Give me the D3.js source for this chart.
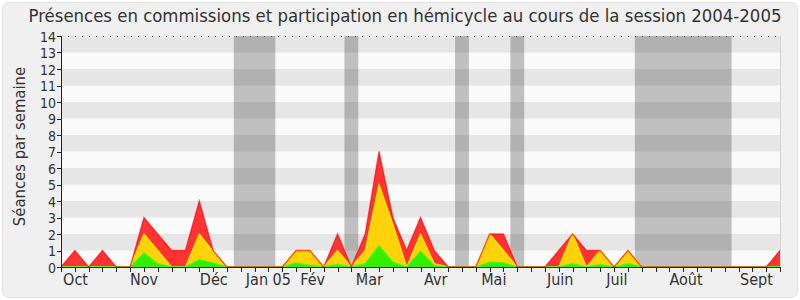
<!DOCTYPE html>
<html>
<head>
<meta charset="utf-8">
<script src="https://cdn.jsdelivr.net/npm/d3@7"></script>
<style>
    body { margin: 0; background: #fff; }
    text { font-family: "DejaVu Sans Condensed", "DejaVu Sans", sans-serif; font-stretch: condensed; fill: #333; }
</style>
</head>
<body>
<div id="chart"></div>
<script>
const ctx = {
    W: 800,
    H: 300,
    left: 61,
    right: 780,
    top: 36,
    bottom: 267,
};

// weekly values, week 0 .. 52 (session oct 2004 -> sept 2005)
const redValues = [0, 1, 0, 1, 0, 0, 3, 2, 1, 1, 4, 1, 0, 0, 0, 0, 0, 1, 1, 0, 2, 0, 2, 7, 3, 1,
                   3, 1, 0, 0, 0, 2, 2, 0, 0, 0, 1, 2, 1, 1, 0, 1, 0, 0, 0, 0, 0, 0, 0, 0, 0, 0, 1];
const yellowValues = [0, 0, 0, 0, 0, 0, 2, 1, 0, 0, 2, 0.95, 0, 0, 0, 0, 0, 1, 1, 0, 1, 0, 1, 5, 2.6, 0,
                      2, 0.2, 0, 0, 0, 2, 1, 0, 0, 0, 0, 2, 0, 1, 0, 1, 0, 0, 0, 0, 0, 0, 0, 0, 0, 0, 0];
const greenValues = [0, 0, 0, 0, 0, 0, 0.85, 0.2, 0, 0, 0.45, 0.25, 0, 0, 0, 0, 0, 0.25, 0.1, 0, 0.15, 0, 0.2, 1.3, 0.3, 0,
                     0.95, 0.1, 0, 0, 0, 0.3, 0.25, 0, 0, 0, 0, 0.2, 0, 0.15, 0, 0.2, 0, 0, 0, 0, 0, 0, 0, 0, 0, 0, 0];

// vacations, in weeks
const vacations = [[12.5, 15.5], [20.5, 21.5], [28.5, 29.5], [32.5, 33.5], [41.5, 48.5]];

const monthLabels = ["Oct", "Nov", "Déc", "Jan 05", "Fév", "Mar", "Avr", "Mai", "Juin", "Juil", "Août", "Sept"];
const monthWeeks = [1.05, 6, 11.05, 15, 18.2, 22.3, 27.1, 31.3, 36.1, 40.2, 45.2, 50.3];

const yTicks = d3.range(0, 15);

function createViz() {
    const svg = d3.select("#chart").append("svg")
                  .attr("width", ctx.W)
                  .attr("height", ctx.H);

    const x = d3.scaleLinear().domain([0, 52]).range([ctx.left, ctx.right]);
    const y = d3.scaleLinear().domain([0, 14]).range([ctx.bottom, ctx.top]);

    // background frame
    svg.append("rect")
       .attr("x", 2.5).attr("y", 2.5)
       .attr("width", ctx.W - 5).attr("height", ctx.H - 5)
       .attr("rx", 6)
       .style("fill", "#f0f0f0")
       .style("stroke", "#e2e2e2");

    // plot background
    svg.append("rect")
       .attr("x", ctx.left).attr("y", ctx.top)
       .attr("width", ctx.right - ctx.left).attr("height", ctx.bottom - ctx.top)
       .style("fill", "#fafafa");

    svg.append("g")
       .selectAll("rect")
       .data(vacations)
       .enter()
       .append("rect")
       .attr("x", d => x(d[0]))
       .attr("width", d => x(d[1]) - x(d[0]))
       .attr("y", ctx.top)
       .attr("height", ctx.bottom - ctx.top)
       .style("fill", "#c0c0c0");

    // horizontal stripes
    svg.append("g")
       .selectAll("rect")
       .data(d3.range(1, 14, 2))
       .enter()
       .append("rect")
       .attr("x", ctx.left)
       .attr("width", ctx.right - ctx.left)
       .attr("y", d => y(d + 1))
       .attr("height", d => y(d) - y(d + 1))
       .style("fill", "rgba(0,0,0,0.08)");

    svg.append("line")
       .attr("x1", ctx.left).attr("x2", ctx.right)
       .attr("y1", ctx.top + 0.5).attr("y2", ctx.top + 0.5)
       .style("stroke", "#555")
       .style("stroke-dasharray", "1,6");

    svg.append("line")
       .attr("x1", ctx.right + 0.5).attr("x2", ctx.right + 0.5)
       .attr("y1", ctx.top).attr("y2", ctx.bottom)
       .style("stroke", "#d4d4d4");

    // areas
    const series = [
        {values: redValues, fill: "#ff3333", stroke: "rgba(255,0,0,0.65)"},
        {values: yellowValues, fill: "#ffd20a", stroke: "rgba(255,240,0,0.9)"},
        {values: greenValues, fill: "#33ee00", stroke: "rgba(60,255,0,0.9)"},
    ];

    const area = d3.area()
                   .x((d, i) => x(i))
                   .y0(y(0))
                   .y1(d => y(d));

    const line = d3.line()
                   .x((d, i) => x(i))
                   .y(d => y(d));

    series.forEach(s => {
        svg.append("path")
           .attr("d", area(s.values))
           .style("fill", s.fill);
    });

    // yellow and green edges first, red edge on top so it turns orange where it meets yellow
    [series[1], series[2], series[0]].forEach(s => {
        svg.append("path")
           .attr("d", line(s.values))
           .style("fill", "none")
           .style("stroke", s.stroke)
           .style("stroke-width", 1.3);
    });

    // x axis
    const xAxis = svg.append("g").attr("transform", `translate(0,${ctx.bottom})`);
    xAxis.append("line")
         .attr("x1", ctx.left).attr("x2", ctx.right)
         .attr("y1", 0.5).attr("y2", 0.5)
         .style("stroke", "#3a1a10");
    xAxis.selectAll(".tick")
         .data(d3.range(0, 53))
         .enter()
         .append("line")
         .attr("x1", d => Math.round(x(d)) + 0.5)
         .attr("x2", d => Math.round(x(d)) + 0.5)
         .attr("y1", 0).attr("y2", 5)
         .style("stroke", "#222");
    xAxis.selectAll("text")
         .data(monthLabels)
         .enter()
         .append("text")
         .attr("x", (d, i) => x(monthWeeks[i]))
         .attr("y", 18)
         .attr("text-anchor", "middle")
         .style("font-size", "16px")
         .text(d => d);

    // y axis
    const yAxis = svg.append("g").attr("transform", `translate(${ctx.left},0)`);
    yAxis.append("line")
         .attr("x1", 0.5).attr("x2", 0.5)
         .attr("y1", ctx.top).attr("y2", ctx.bottom)
         .style("stroke", "#222");
    yAxis.selectAll(".tick")
         .data(yTicks)
         .enter()
         .append("line")
         .attr("x1", -4).attr("x2", 0)
         .attr("y1", d => Math.round(y(d)) + 0.5)
         .attr("y2", d => Math.round(y(d)) + 0.5)
         .style("stroke", "#222");
    yAxis.selectAll("text")
         .data(yTicks)
         .enter()
         .append("text")
         .attr("x", -5)
         .attr("y", d => y(d) + 5.5)
         .attr("text-anchor", "end")
         .style("font-size", "14px")
         .text(d => d);

    svg.append("text")
       .attr("transform", `translate(25,${(ctx.top + ctx.bottom) / 2 - 5}) rotate(-90)`)
       .attr("text-anchor", "middle")
       .style("font-size", "16.5px")
       .text("Séances par semaine");

    svg.append("text")
       .attr("x", 405)
       .attr("y", 22)
       .attr("text-anchor", "middle")
       .style("font-size", "18.4px")
       .text("Présences en commissions et participation en hémicycle au cours de la session 2004-2005");
}

createViz();
</script>
</body>
</html>
